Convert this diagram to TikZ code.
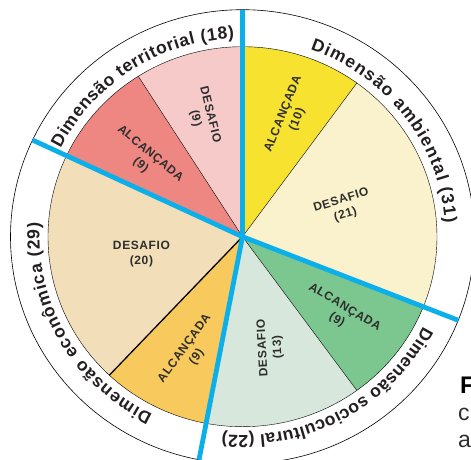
\documentclass[tikz,border=0pt]{standalone}
\usepackage{fontspec}
\setmainfont{Liberation Sans}
\newfontfamily\slicefam[LetterSpace=5]{Liberation Sans}
\usetikzlibrary{decorations.text}
\definecolor{blueline}{HTML}{0BB0EA}
\definecolor{terA}{HTML}{EE8781}
\definecolor{terD}{HTML}{F7CACA}
\definecolor{ambA}{HTML}{F6E22F}
\definecolor{ambD}{HTML}{FAF1CD}
\definecolor{socA}{HTML}{7CC68F}
\definecolor{socD}{HTML}{D7E7DB}
\definecolor{ecoA}{HTML}{F8CA5E}
\definecolor{ecoD}{HTML}{F2DEB9}
\definecolor{txt}{HTML}{2E2E2E}
\definecolor{ink}{HTML}{231F20}
\newcommand{\ringfont}{\fontsize{17.5}{21}\selectfont\bfseries}
\newcommand{\slicefont}{\slicefam\fontsize{12}{15}\selectfont\bfseries}
\tikzset{
  lab/.style={font=\slicefont, text=txt, align=center, inner sep=0pt},
  sepline/.style={draw=black, line width=0.4pt},
  bluesep/.style={draw=blueline, line width=4.8pt},
  ringtext/.style={decorate, decoration={text along path, text align=fit to path, text color=ink, text={|\ringfont|#1}}},
  pie/.style={x radius=194.5pt, y radius=190pt},
  txtarc/.style={x radius=203pt, y radius=198.5pt},
}
\begin{document}
\begin{tikzpicture}
\useasboundingbox (-242.5pt,-222.3pt) rectangle (228.5pt,236.7pt);
\clip (-242.5pt,-222.3pt) rectangle (228.5pt,236.7pt);
\coordinate (O) at (0,0);
% slices
\fill[ambA] (O) -- (90:194.5pt and 190pt) arc[start angle=90, end angle=54, pie] -- cycle;
\fill[ambD] (O) -- (54:194.5pt and 190pt) arc[start angle=54, end angle=-21.6, pie] -- cycle;
\fill[socA] (O) -- (-21.6:194.5pt and 190pt) arc[start angle=-21.6, end angle=-54, pie] -- cycle;
\fill[socD] (O) -- (-54:194.5pt and 190pt) arc[start angle=-54, end angle=-100.8, pie] -- cycle;
\fill[ecoA] (O) -- (-100.8:194.5pt and 190pt) arc[start angle=-100.8, end angle=-133.2, pie] -- cycle;
\fill[ecoD] (O) -- (-133.2:194.5pt and 190pt) arc[start angle=-133.2, end angle=-205.2, pie] -- cycle;
\fill[terA] (O) -- (154.8:194.5pt and 190pt) arc[start angle=154.8, end angle=122.4, pie] -- cycle;
\fill[terD] (O) -- (122.4:194.5pt and 190pt) arc[start angle=122.4, end angle=90, pie] -- cycle;
% thin separators
\draw[sepline] (O) -- (54:194.5pt and 190pt);
\draw[sepline] (O) -- (-54:194.5pt and 190pt);
\draw[sepline] (O) -- (122.4:194.5pt and 190pt);
\draw[draw=black, line width=1.3pt] (O) -- (-133.2:194.5pt and 190pt);
% outlines
\draw[sepline] (O) ellipse[x radius=194.5pt, y radius=190pt];
\draw[sepline, line width=0.6pt] (O) ellipse[x radius=232pt, y radius=227pt];
% blue dividers
\draw[bluesep] (O) -- (90:232pt and 227pt);
\draw[bluesep] (O) -- (-21.6:232pt and 227pt);
\draw[bluesep] (O) -- (-100.8:232pt and 227pt);
\draw[bluesep] (O) -- (154.8:232pt and 227pt);
% ring texts
\path[ringtext={Dimensão territorial (18)}] (153.6:203pt and 198.5pt) arc[start angle=153.6, end angle=92.4, txtarc];
\path[ringtext={Dimensão ambiental (31)}] (70.5:203pt and 198.5pt) arc[start angle=70.5, end angle=4, txtarc];
\path[ringtext={Dimensão sociocultural (22)}] (-27:203pt and 198.5pt) arc[start angle=-27, end angle=-95.7, txtarc];
\path[ringtext={Dimensão econômica (29)}] (-116.3:203pt and 198.5pt) arc[start angle=-116.3, end angle=-184, txtarc];
% slice labels
\node[lab, rotate=-76] (lTD) at (108.4:126.5pt) {DESAFIO\\(9)};
\node[lab, rotate=-40] (lTA) at (141.6:124pt) {ALCANÇADA\\(9)};
\node[lab, rotate=68] (lAA) at (68.2:129pt) {ALCANÇADA\\(10)};
\node[lab, rotate=17] (lAD) at (16:105pt) {DESAFIO\\(21)};
\node[lab, rotate=-31] (lSA) at (-38.2:125pt) {ALCANÇADA\\(9)};
\node[lab, rotate=93] (lSD) at (-75.8:114.5pt) {DESAFIO\\(13)};
\node[lab, rotate=54] (lEA) at (-114:127pt) {ALCANÇADA\\(9)};
\node[lab] (lED) at (190:102.6pt) {DESAFIO\\(20)};
% cropped caption text at right edge
\node[anchor=base west, inner sep=0pt, font=\fontsize{24}{28}\selectfont\bfseries, text=black] (capF) at (217.5pt,-156.3pt) {F};
\node[anchor=base west, inner sep=0pt, font=\fontsize{23}{27}\selectfont, text=txt] (capC) at (215.5pt,-183.3pt) {c};
\node[anchor=base west, inner sep=0pt, font=\fontsize{23}{27}\selectfont, text=txt] (capA) at (215.5pt,-210.3pt) {a};
\end{tikzpicture}
\end{document}
